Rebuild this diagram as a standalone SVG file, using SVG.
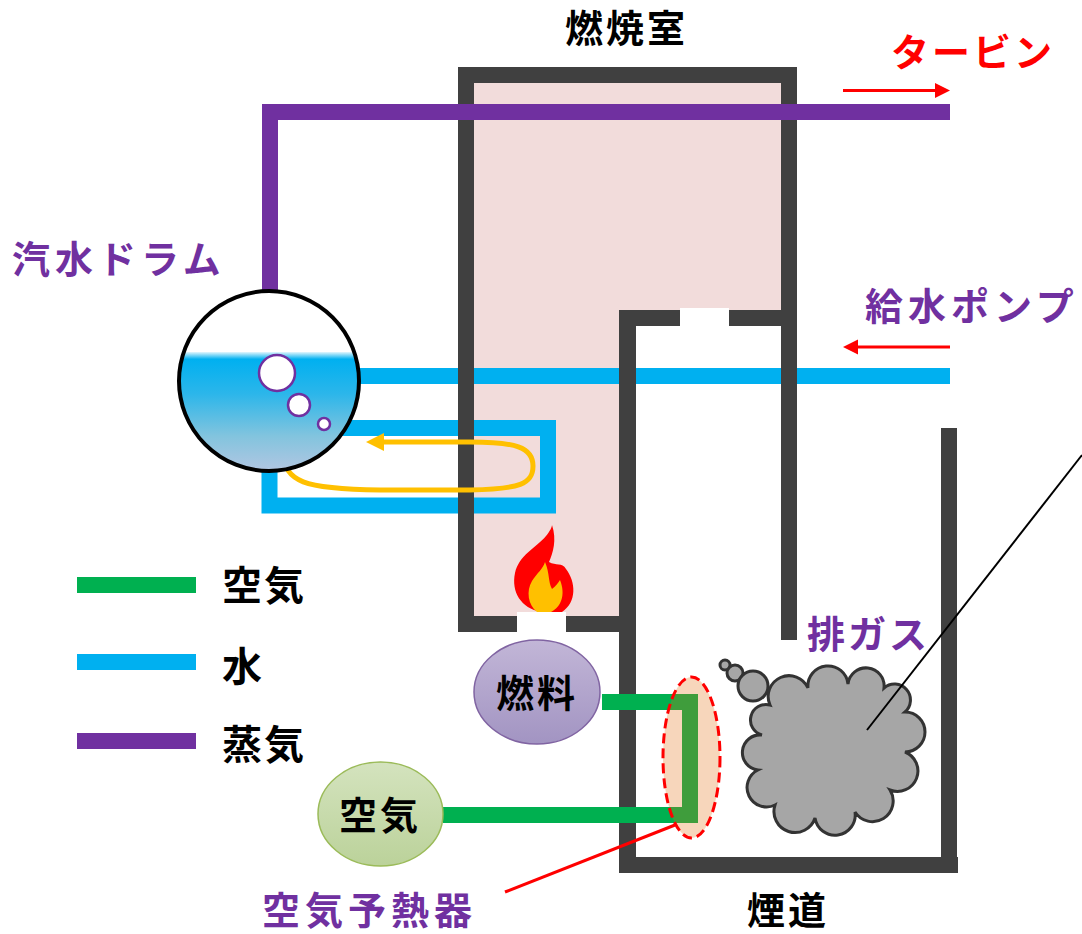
<svg xmlns="http://www.w3.org/2000/svg" width="1082" height="934" viewBox="0 0 1082 934">
  <defs>
    <style>
      .wall { fill: #404040; }
      .gap { fill: #FFFFFF; }
      .pipe { fill: none; stroke-width: 16; stroke-linejoin: miter; }
      .steam { stroke: #7030A0; }
      .water { stroke: #00B0F0; }
      .air { stroke: #00B050; }
      .lbl { font-family: "Noto Sans CJK JP", "Noto Sans", sans-serif; font-weight: 700; font-size: 38px; letter-spacing: 3px; }
      .key { font-size: 40px; letter-spacing: 2px; }
      .wide { letter-spacing: 5px; }
      .purple { fill: #7030A0; }
      .black { fill: #000000; }
      .red { fill: #FF0000; }
      .bubble { fill: #FFFFFF; stroke: #7030A0; stroke-width: 2.5; }
      .flow { stroke: #FF0000; stroke-width: 3; fill: none; }
    </style>
    <linearGradient id="drumWater" x1="0" y1="352" x2="0" y2="472" gradientUnits="userSpaceOnUse">
      <stop offset="0" stop-color="#E2F6FD"/>
      <stop offset="0.06" stop-color="#00B0F0"/>
      <stop offset="0.35" stop-color="#2CB6EA"/>
      <stop offset="0.7" stop-color="#82C4DE"/>
      <stop offset="1" stop-color="#B3C6E2"/>
    </linearGradient>
    <linearGradient id="fuelFill" x1="0" y1="0" x2="0" y2="1">
      <stop offset="0" stop-color="#C2B6D7"/>
      <stop offset="1" stop-color="#A294C2"/>
    </linearGradient>
    <linearGradient id="airFill" x1="0" y1="0" x2="0" y2="1">
      <stop offset="0" stop-color="#D4E3BE"/>
      <stop offset="1" stop-color="#BBD29A"/>
    </linearGradient>
    <clipPath id="drumClip">
      <circle cx="269" cy="381" r="89"/>
    </clipPath>
  </defs>

  <!-- furnace interior -->
  <path id="furnace-fill" d="M474 83 H781 V310 H619 V616 H474 Z" fill="#F2DCDB"/>

  <!-- water circuit: feedwater line and evaporator loop -->
  <g id="water-circuit">
    <path class="pipe water" d="M340 376 H950"/>
    <path class="pipe water" d="M330 428 H548 V505.5 H269.5 V455"/>
  </g>

  <!-- furnace and flue walls -->
  <g id="walls">
    <rect class="wall" x="458" y="67" width="339" height="16"/>
    <rect class="wall" x="458" y="67" width="16" height="565"/>
    <rect class="wall" x="781" y="67" width="16" height="573"/>
    <rect class="wall" x="458" y="616" width="178" height="16"/>
    <rect class="wall" x="619" y="310" width="178" height="16"/>
    <rect class="wall" x="619" y="310" width="17" height="563"/>
    <rect class="wall" x="619" y="857" width="339" height="16"/>
    <rect class="wall" x="941" y="428" width="16" height="445"/>
    <rect class="gap" x="680" y="308" width="49" height="20"/>
    <rect class="gap" x="517" y="612" width="49" height="22"/>
  </g>

  <!-- circulation arrow -->
  <g id="circulation">
    <path d="M282 452 C286 482 302 489 380 490 L470 490 C520 489 533 484 533 466 C533 447 515 442 470 442 L382 442" fill="none" stroke="#FFC000" stroke-width="5"/>
    <polygon points="366,442 384,433 384,451" fill="#FFC000"/>
  </g>

  <!-- steam line -->
  <g id="steam-line">
    <path class="pipe steam" d="M270 300 V112 H950"/>
  </g>

  <!-- steam drum -->
  <g id="drum">
    <circle cx="269" cy="381" r="90" fill="#FFFFFF"/>
    <rect x="175" y="352" width="190" height="130" fill="url(#drumWater)" clip-path="url(#drumClip)"/>
    <circle cx="269" cy="381" r="90" fill="none" stroke="#000000" stroke-width="4"/>
    <circle class="bubble" cx="277" cy="373" r="18"/>
    <circle class="bubble" cx="299" cy="405" r="11"/>
    <circle class="bubble" cx="324" cy="424" r="6"/>
  </g>

  <!-- burner flame -->
  <g id="flame">
    <path d="M541 612 C521 608 511 592 515 573 C519 555 536 548 546 536 C550 531 552 527 552 525 C557 540 553 553 549 562 C556 566 562 562 566 569 C576 582 577 602 562 612 Z" fill="#FF0000"/>
    <path d="M537 612 C528 605 526 591 532 581 C537 573 543 569 545 562 C550 574 548 582 552 589 C556 586 558 583 560 580 C566 595 561 607 551 612 Z" fill="#FFC000"/>
  </g>

  <!-- fuel supply -->
  <g id="fuel">
    <ellipse cx="537" cy="692" rx="63" ry="52" fill="url(#fuelFill)" stroke="#8064A2" stroke-width="1.5"/>
    <text class="lbl black" x="537" y="707" text-anchor="middle" letter-spacing="0">燃料</text>
  </g>

  <!-- combustion air line -->
  <g id="air-line">
    <path class="pipe air" d="M602 702 H690 V815 H443"/>
  </g>

  <!-- air source -->
  <g id="air">
    <ellipse cx="380.5" cy="814" rx="62.5" ry="52" fill="url(#airFill)" stroke="#9BBB59" stroke-width="1.5"/>
    <text class="lbl black" x="380" y="829" text-anchor="middle" letter-spacing="0">空気</text>
  </g>

  <!-- air preheater -->
  <g id="preheater">
    <ellipse cx="691.5" cy="757.5" rx="28.5" ry="80.5" fill="#E46C0A" fill-opacity="0.28" stroke="#FF0000" stroke-width="3" stroke-dasharray="10 5"/>
  </g>

  <!-- exhaust gas cloud -->
  <g id="exhaust" fill="#A6A6A6" stroke="#333333" stroke-width="3">
    <circle cx="725" cy="665" r="5"/>
    <circle cx="735" cy="673" r="8"/>
    <circle cx="753" cy="686" r="15"/>
    <path d="M770 705 A1 1 0 0 1 808 688 A1 1 0 0 1 848 684 A1 1 0 0 1 884 688 A1 1 0 0 1 905 712 A1 1 0 0 1 905 752 A1 1 0 0 1 890 790 A1 1 0 0 1 855 812 A1 1 0 0 1 815 818 A1 1 0 0 1 775 805 A1 1 0 0 1 758 770 A1 1 0 0 1 762 735 A1 1 0 0 1 770 705 Z"/>
  </g>

  <!-- flow arrows and leaders -->
  <g id="connectors">
    <line class="flow" x1="843" y1="90.5" x2="937" y2="90.5"/>
    <polygon points="950,90.5 935,83 935,98" fill="#FF0000"/>
    <line class="flow" x1="950" y1="347" x2="856" y2="347"/>
    <polygon points="843,347 858,339.5 858,354.5" fill="#FF0000"/>
    <line class="flow" x1="675" y1="825" x2="505" y2="892"/>
    <line x1="867" y1="730" x2="1082" y2="455" stroke="#000000" stroke-width="2"/>
  </g>

  <!-- legend -->
  <g id="legend">
    <rect x="77" y="577" width="119" height="16" fill="#00B050"/>
    <rect x="77" y="654" width="119" height="16" fill="#00B0F0"/>
    <rect x="77" y="733" width="119" height="16" fill="#7030A0"/>
    <text class="lbl key black" x="222" y="600">空気</text>
    <text class="lbl key black" x="222" y="681">水</text>
    <text class="lbl key black" x="222" y="759">蒸気</text>
  </g>

  <!-- labels -->
  <g id="labels">
    <text class="lbl black" x="565" y="42">燃焼室</text>
    <text class="lbl red" x="891" y="66">タービン</text>
    <text class="lbl wide purple" x="12" y="273">汽水ドラム</text>
    <text class="lbl wide purple" x="865" y="320">給水ポンプ</text>
    <text class="lbl purple" x="807" y="648" letter-spacing="7">排ガス</text>
    <text class="lbl wide purple" x="262" y="924">空気予熱器</text>
    <text class="lbl black" x="747" y="924">煙道</text>
  </g>
</svg>
